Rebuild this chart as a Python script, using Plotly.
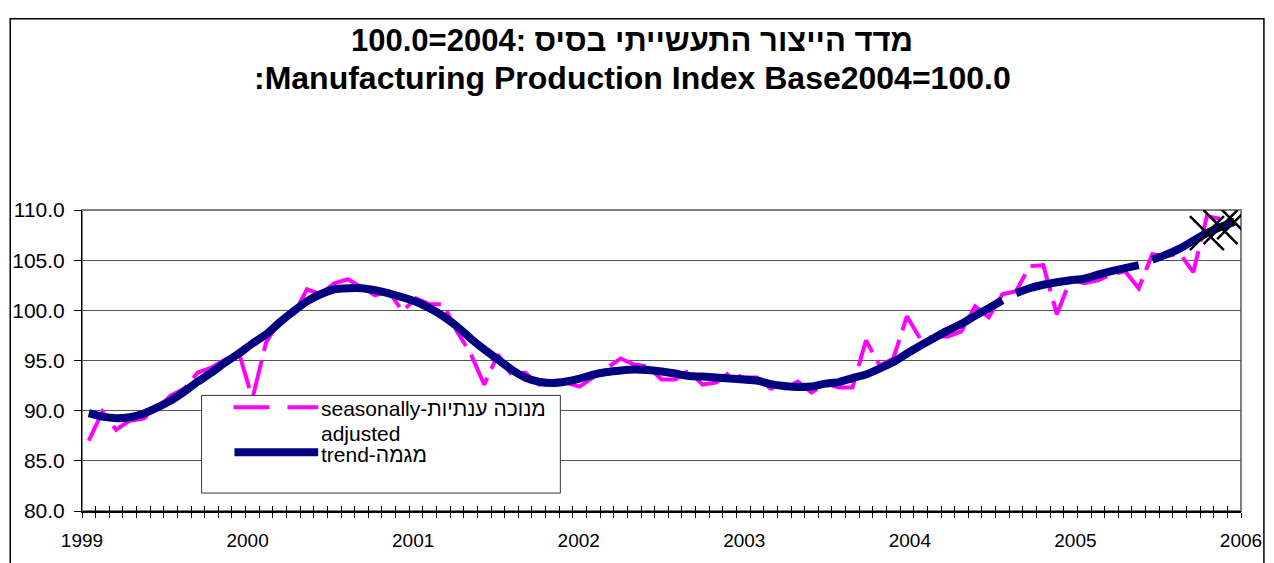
import plotly.graph_objects as go
import numpy as np

# ---- data (month index 0 = Jan 1999 ... 84 = Jan 2006) ----
years = ["1999", "2000", "2001", "2002", "2003", "2004", "2005", "2006"]
months = list(range(85))

seasonally_adjusted = [
    87.0, 89.9, 88.1, 89.0, 89.2, 90.2, 91.5, 92.2, 93.8, 94.3, 95.1, 95.8,
    91.2, 96.8, 99.0, 99.5, 102.1, 101.6, 102.7, 103.1, 102.3, 101.5, 101.9, 99.9,
    101.2, 100.6, 100.6, 97.9, 95.7, 92.6, 95.6, 93.6, 93.8, 92.6, 92.6, 92.8,
    92.4, 93.3, 94.2, 95.2, 94.6, 94.4, 93.1, 93.1, 94.0, 92.6, 92.8, 93.8,
    93.3, 93.3, 92.2, 92.2, 92.9, 91.8, 92.7, 92.3, 92.3, 97.0, 94.5, 95.2,
    99.4, 97.1, 97.4, 97.4, 97.9, 100.4, 99.3, 101.6, 101.9, 104.4, 104.5, 99.6,
    103.1, 102.7, 103.0, 103.6, 103.9, 102.2, 105.6, 105.4, 105.7, 103.8, 109.4, 109.1,
    109.0,
]

trend = [
    89.75, 89.4, 89.25, 89.35, 89.7, 90.3, 91.0, 91.9, 92.9, 93.8, 94.8, 95.7,
    96.7, 97.6, 98.8, 99.9, 100.9, 101.6, 102.1, 102.2, 102.2, 102.0, 101.7, 101.3,
    100.85, 100.2, 99.4, 98.4, 97.2, 96.1, 95.1, 94.1, 93.3, 92.9, 92.75, 92.9,
    93.2, 93.6, 93.85, 94.0, 94.1, 94.05, 93.9, 93.7, 93.45, 93.4, 93.3, 93.2,
    93.1, 93.0, 92.65, 92.45, 92.35, 92.4, 92.7, 92.85, 93.25, 93.6, 94.2, 94.85,
    95.7, 96.5, 97.25, 98.0, 98.65, 99.45, 100.2, 101.0, 101.7, 102.2, 102.55, 102.8,
    103.0, 103.15, 103.55, 103.9, 104.2, 104.5, 105.05, 105.55, 106.15, 106.95, 107.7, 108.3,
    108.8,
]
trend_breaks_after = [67, 77]      # trend drawn as separate pieces
marked_months = [82, 83, 84]        # points marked with X

title_he = "מדד הייצור התעשייתי בסיס :2004=100.0"
title_en = ":Manufacturing Production Index Base2004=100.0"
legend_sa_line1 = "seasonally-מנוכה ענתיות"
legend_sa_line2 = "adjusted"
legend_trend = "trend-מגמה"

FONT = "Liberation Sans, Arial, sans-serif"
PINK = "#FF00FF"
NAVY = "#000080"

# ---- build trend pieces ----
tx, ty = [], []
for m, v in zip(months, trend):
    tx.append(m)
    ty.append(v)
    if m in trend_breaks_after:
        tx.append(None)
        ty.append(None)

fig = go.Figure()
fig.add_trace(go.Scatter(
    x=months, y=seasonally_adjusted, mode="lines",
    line=dict(color=PINK, width=4, dash="40px,10px"),
    showlegend=False, hoverinfo="skip"))
fig.add_trace(go.Scatter(
    x=tx, y=ty, mode="lines", connectgaps=False,
    line=dict(color=NAVY, width=8, shape="spline", smoothing=0.5),
    showlegend=False, hoverinfo="skip"))
fig.add_trace(go.Scatter(
    x=marked_months, y=[trend[m] for m in marked_months], mode="markers",
    marker=dict(symbol="x-thin", size=34, line=dict(color="black", width=2.5)),
    xaxis="x2", showlegend=False, hoverinfo="skip"))

x0, x1 = -0.5, 84.5
tickpos = list(np.linspace(x0, x1, len(years)))

fig.update_layout(
    width=1274, height=563,
    margin=dict(l=80, r=31, t=210, b=51),
    paper_bgcolor="white", plot_bgcolor="white",
    font=dict(family=FONT, color="black"),
    xaxis=dict(
        range=[x0, x1], tickmode="array", tickvals=tickpos, ticktext=years,
        ticks="", showgrid=False, zeroline=False,
        showline=True, linecolor="black", linewidth=2,
        tickfont=dict(size=19, family=FONT, color="black"),
        ticklabelstandoff=11,
        minor=dict(tickmode="linear", tick0=-0.5, dtick=1, ticks="outside",
                   ticklen=5, tickcolor="black", tickwidth=1, showgrid=False),
    ),
    xaxis2=dict(
        range=[x0, x1], overlaying="x", anchor="y", side="bottom",
        tickmode="linear", tick0=-0.5, dtick=1, ticks="inside", ticklen=5,
        tickcolor="black", showticklabels=False, showgrid=False,
        zeroline=False, showline=False,
    ),
    yaxis=dict(
        range=[80, 110], tickmode="linear", tick0=80, dtick=5, tickformat=".1f",
        ticks="outside", ticklen=7, tickcolor="black",
        showgrid=True, gridcolor="#555555", gridwidth=1, zeroline=False,
        showline=True, linecolor="black", linewidth=1,
        tickfont=dict(size=21, family=FONT, color="black"),
        ticklabelstandoff=5,
    ),
    showlegend=False,
)

def px_x(X):
    return (X - 80) / 1163.0

def px_y(Y):
    return (512 - Y) / 302.0

shapes = [
    # plot area border (right / top)
    dict(type="rect", xref="paper", yref="paper", x0=0, x1=1, y0=0, y1=1,
         line=dict(color="#808080", width=2), fillcolor="rgba(0,0,0,0)", layer="below"),
    # outer chart frame
    dict(type="rect", xref="paper", yref="paper",
         x0=px_x(8), x1=px_x(1266), y0=px_y(640), y1=px_y(18),
         line=dict(color="black", width=1.5), fillcolor="rgba(0,0,0,0)", layer="above"),
    # legend box
    dict(type="rect", xref="paper", yref="paper",
         x0=px_x(200), x1=px_x(560), y0=px_y(494), y1=px_y(396),
         line=dict(color="#333333", width=1), fillcolor="white", layer="above"),
    dict(type="line", xref="paper", yref="paper",
         x0=px_x(232), x1=px_x(317), y0=px_y(408), y1=px_y(408),
         line=dict(color=PINK, width=4, dash="36px,18px"), layer="above"),
    dict(type="line", xref="paper", yref="paper",
         x0=px_x(233), x1=px_x(317), y0=px_y(453), y1=px_y(453),
         line=dict(color=NAVY, width=8), layer="above"),
]

annotations = [
    dict(text=title_he, xref="paper", yref="paper", x=px_x(632), y=px_y(40),
         xanchor="center", yanchor="middle", showarrow=False,
         font=dict(size=31, family=FONT, color="black", weight="bold")),
    dict(text=title_en, xref="paper", yref="paper", x=px_x(632), y=px_y(78),
         xanchor="center", yanchor="middle", showarrow=False,
         font=dict(size=32, family=FONT, color="black", weight="bold")),
    dict(text=legend_sa_line1, xref="paper", yref="paper", x=px_x(318), y=px_y(409),
         xanchor="left", yanchor="middle", showarrow=False,
         font=dict(size=21, family=FONT, color="black")),
    dict(text=legend_sa_line2, xref="paper", yref="paper", x=px_x(318), y=px_y(434),
         xanchor="left", yanchor="middle", showarrow=False,
         font=dict(size=21, family=FONT, color="black")),
    dict(text=legend_trend, xref="paper", yref="paper", x=px_x(318), y=px_y(455),
         xanchor="left", yanchor="middle", showarrow=False,
         font=dict(size=21, family=FONT, color="black")),
]
fig.update_layout(shapes=shapes, annotations=annotations)

fig.write_html("out.html", config={"displayModeBar": False},
               post_script="document.body.style.margin='0';")
